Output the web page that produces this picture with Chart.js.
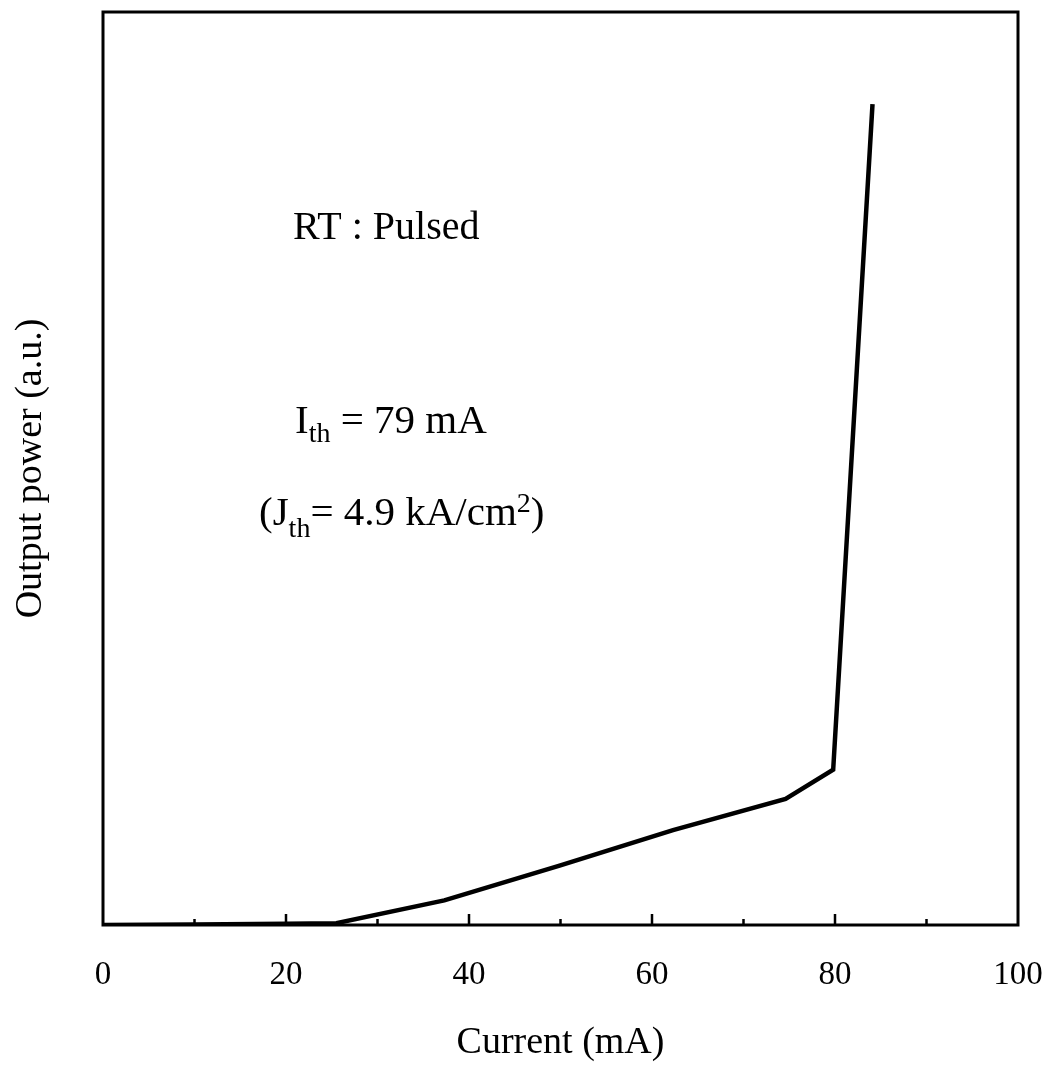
<!DOCTYPE html>
<html>
<head>
<meta charset="utf-8">
<script src="https://cdn.jsdelivr.net/npm/chart.js@4/dist/chart.umd.min.js"></script>
<style>
  body { margin: 0; background: #fff; }
  #wrap { width: 1050px; height: 1073px; }
</style>
</head>
<body>
<div id="wrap"><canvas id="mycanvas" width="1050" height="1073"></canvas></div>
<script>
// L-I curve (current in mA, output power in a.u.)
var current = [0, 10, 20, 25.5, 37.3, 49.9, 62.3, 74.6, 79.8, 84.1];
var power   = [0, 0.05, 0.15, 0.2, 2.7, 6.5, 10.4, 13.8, 17.0, 89.9];

var xTickLabels = [0, 20, 40, 60, 80, 100];
var minorTicks = [10, 30, 50, 70, 90];
var majorTicks = [20, 40, 60, 80];

var serif = "'Liberation Serif', 'Times New Roman', serif";

var pts = [];
for (var i = 0; i < current.length; i++) {
  pts.push({x: current[i], y: power[i]});
}

// draws a line of text made of pieces (normal / sub / sup)
function richText(ctx, x, y, parts) {
  ctx.textBaseline = 'alphabetic';
  ctx.textAlign = 'left';
  for (var k = 0; k < parts.length; k++) {
    var p = parts[k];
    ctx.font = p.size + 'px ' + serif;
    ctx.fillText(p.t, x, y + (p.dy || 0));
    x += ctx.measureText(p.t).width;
  }
}

var frame = {
  id: 'frame',
  afterDatasetsDraw: function(chart) {
    var ctx = chart.ctx;
    var a = chart.chartArea;
    var xs = chart.scales.x;
    ctx.save();
    ctx.strokeStyle = '#000';
    ctx.lineWidth = 3;
    ctx.strokeRect(a.left, a.top, a.right - a.left, a.bottom - a.top);
    // inward tick marks
    ctx.lineWidth = 2.5;
    ctx.beginPath();
    majorTicks.forEach(function(v) {
      var px = xs.getPixelForValue(v);
      ctx.moveTo(px, a.bottom);
      ctx.lineTo(px, a.bottom - 11);
    });
    minorTicks.forEach(function(v) {
      var px = xs.getPixelForValue(v);
      ctx.moveTo(px, a.bottom);
      ctx.lineTo(px, a.bottom - 6);
    });
    ctx.stroke();

    ctx.fillStyle = '#000';
    richText(ctx, 293, 239, [{t: 'RT : Pulsed', size: 40}]);
    richText(ctx, 295, 433, [
      {t: 'I', size: 41},
      {t: 'th', size: 28, dy: 9},
      {t: ' = 79 mA', size: 41}
    ]);
    richText(ctx, 259, 525, [
      {t: '(J', size: 41},
      {t: 'th', size: 28, dy: 12},
      {t: '= 4.9 kA/cm', size: 41},
      {t: '2', size: 28, dy: -13},
      {t: ')', size: 41}
    ]);
    ctx.restore();
  }
};

var ctx = document.getElementById('mycanvas');

var chart = new Chart(ctx, {
  type: 'line',
  data: {
    datasets: [{
      data: pts,
      borderColor: '#000',
      borderWidth: 4.5,
      pointRadius: 0,
      fill: false,
      tension: 0
    }]
  },
  options: {
    responsive: false,
    animation: false,
    devicePixelRatio: 1,
    layout: { padding: { top: 12, right: 32, left: 0, bottom: 0 } },
    plugins: { legend: { display: false }, tooltip: { enabled: false } },
    scales: {
      x: {
        type: 'linear',
        min: 0,
        max: 100,
        afterBuildTicks: function(s) {
          s.ticks = xTickLabels.map(function(v) { return {value: v}; });
        },
        afterFit: function(s) {
          s.height = 148;
          s.paddingLeft = 0;
          s.paddingRight = 0;
        },
        grid: { display: false, drawTicks: false },
        border: { display: false },
        ticks: {
          color: '#000',
          padding: 31,
          maxRotation: 0,
          font: { family: serif, size: 33 }
        },
        title: {
          display: true,
          text: 'Current (mA)',
          color: '#000',
          font: { family: serif, size: 38 },
          padding: { top: 0, bottom: 7 }
        }
      },
      y: {
        min: 0,
        max: 100,
        afterFit: function(s) { s.width = 103; },
        grid: { display: false, drawTicks: false },
        border: { display: false },
        ticks: { display: false },
        title: {
          display: true,
          text: 'Output power (a.u.)',
          color: '#000',
          font: { family: serif, size: 38 },
          padding: { top: 8, bottom: 0 }
        }
      }
    }
  },
  plugins: [frame]
});
</script>
</body>
</html>
